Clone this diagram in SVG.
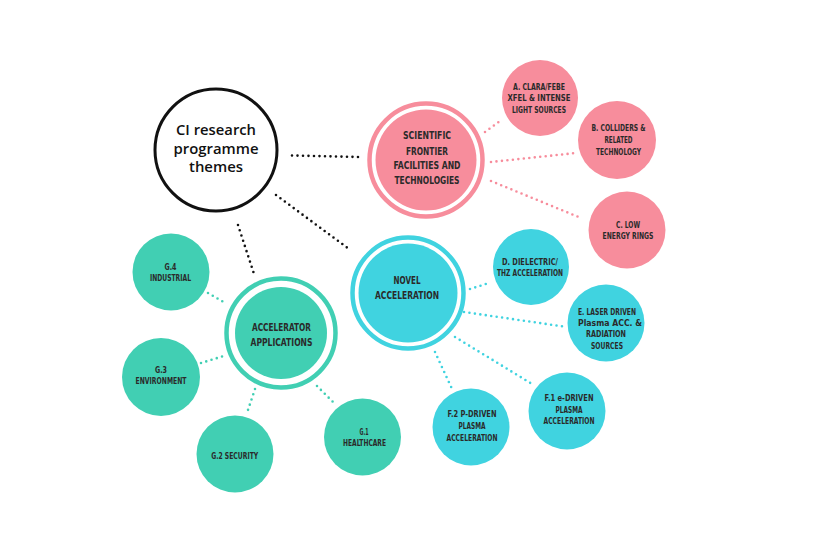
<svg xmlns="http://www.w3.org/2000/svg" width="820" height="546" viewBox="0 0 820 546">
<style>
.bg{fill:#ffffff}
.pink{fill:#F78D9C}
.blue{fill:#40D3E0}
.green{fill:#41CFB3}
.ringP{fill:none;stroke:#F78D9C;stroke-width:4.5}
.ringB{fill:none;stroke:#40D3E0;stroke-width:4.5}
.ringG{fill:none;stroke:#41CFB3;stroke-width:4.5}
.dot{fill:none;stroke-linecap:round;stroke-width:2.6;stroke-dasharray:0 5.5}
.dk{stroke:#111111}
.dp{stroke:#F78D9C}
.db{stroke:#40D3E0}
.dg{stroke:#41CFB3}
.t{font-family:"Liberation Sans Narrow","DejaVu Sans Condensed",sans-serif;fill:#2a2a2a;text-anchor:middle;font-weight:bold}
.s{font-size:9px}
.m{font-size:11px}
.c{font-family:"Open Sans","Noto Sans",sans-serif;font-weight:600;font-size:15px;fill:#111111;text-anchor:middle}
</style>
<rect class="bg" x="0" y="0" width="820" height="546"/>
<g id="connectors">
<line class="dot dk" x1="292" y1="155.5" x2="358" y2="157"/>
<line class="dot dk" x1="276" y1="195" x2="349" y2="249"/>
<line class="dot dk" x1="238" y1="225" x2="255" y2="277"/>
<line class="dot dp" x1="485" y1="132" x2="500" y2="121"/>
<line class="dot dp" x1="491" y1="162" x2="576" y2="153"/>
<line class="dot dp" x1="491" y1="181" x2="581" y2="218"/>
<line class="dot db" x1="470" y1="289" x2="489" y2="283"/>
<line class="dot db" x1="464" y1="312" x2="567" y2="327"/>
<line class="dot db" x1="455" y1="337" x2="532" y2="384"/>
<line class="dot db" x1="435" y1="352" x2="453" y2="391"/>
<line class="dot dg" x1="208" y1="293" x2="227" y2="304"/>
<line class="dot dg" x1="201" y1="363" x2="227" y2="355"/>
<line class="dot dg" x1="255" y1="389" x2="247" y2="413"/>
<line class="dot dg" x1="317" y1="386" x2="335" y2="404"/>
</g>
<g id="root">
<circle cx="216" cy="150" r="61" fill="#ffffff" stroke="#111111" stroke-width="3"/>
<text class="c" x="216" y="135" textLength="80" lengthAdjust="spacingAndGlyphs">CI research</text>
<text class="c" x="216" y="153.5" textLength="85" lengthAdjust="spacingAndGlyphs">programme</text>
<text class="c" x="216" y="172" textLength="54" lengthAdjust="spacingAndGlyphs">themes</text>
</g>
<g id="scientific">
<circle class="ringP" cx="426" cy="160" r="56.5"/>
<circle class="pink" cx="426" cy="160" r="50.5"/>
<text class="t m" x="427" y="139" textLength="48" lengthAdjust="spacingAndGlyphs">SCIENTIFIC</text>
<text class="t m" x="427" y="154.5" textLength="42" lengthAdjust="spacingAndGlyphs">FRONTIER</text>
<text class="t m" x="427" y="169" textLength="67" lengthAdjust="spacingAndGlyphs">FACILITIES AND</text>
<text class="t m" x="427" y="184" textLength="65" lengthAdjust="spacingAndGlyphs">TECHNOLOGIES</text>
</g>
<g id="nodeA">
<circle class="pink" cx="540" cy="98" r="38"/>
<text class="t s" x="539" y="90" textLength="52" lengthAdjust="spacingAndGlyphs">A. CLARA/FEBE</text>
<text class="t s" x="539" y="101" textLength="63" lengthAdjust="spacingAndGlyphs">XFEL &amp; INTENSE</text>
<text class="t s" x="539" y="112.5" textLength="54" lengthAdjust="spacingAndGlyphs">LIGHT SOURCES</text>
</g>
<g id="nodeB">
<circle class="pink" cx="617" cy="140" r="39"/>
<text class="t s" x="618.5" y="131" textLength="54" lengthAdjust="spacingAndGlyphs">B. COLLIDERS &amp;</text>
<text class="t s" x="618.5" y="143" textLength="28" lengthAdjust="spacingAndGlyphs">RELATED</text>
<text class="t s" x="618.5" y="155" textLength="45" lengthAdjust="spacingAndGlyphs">TECHNOLOGY</text>
</g>
<g id="nodeC">
<circle class="pink" cx="627" cy="230" r="38.5"/>
<text class="t s" x="628" y="228" textLength="24" lengthAdjust="spacingAndGlyphs">C. LOW</text>
<text class="t s" x="628" y="239" textLength="51" lengthAdjust="spacingAndGlyphs">ENERGY RINGS</text>
</g>
<g id="novel">
<circle class="ringB" cx="408" cy="293" r="55.5"/>
<circle class="blue" cx="408" cy="293" r="49.5"/>
<text class="t m" x="407" y="284" textLength="27" lengthAdjust="spacingAndGlyphs">NOVEL</text>
<text class="t m" x="407" y="299" textLength="64" lengthAdjust="spacingAndGlyphs">ACCELERATION</text>
</g>
<g id="nodeD">
<circle class="blue" cx="531" cy="267" r="38"/>
<text class="t s" x="530" y="265" textLength="56" lengthAdjust="spacingAndGlyphs">D. DIELECTRIC/</text>
<text class="t s" x="530" y="276" textLength="66" lengthAdjust="spacingAndGlyphs">THZ ACCELERATION</text>
</g>
<g id="nodeE">
<circle class="blue" cx="606" cy="323" r="38.5"/>
<text class="t s" x="607" y="315" textLength="58" lengthAdjust="spacingAndGlyphs">E. LASER DRIVEN</text>
<text class="t s" x="610" y="326" textLength="64" lengthAdjust="spacingAndGlyphs">Plasma ACC. &amp;</text>
<text class="t s" x="606" y="337" textLength="40" lengthAdjust="spacingAndGlyphs">RADIATION</text>
<text class="t s" x="607" y="348.5" textLength="32" lengthAdjust="spacingAndGlyphs">SOURCES</text>
</g>
<g id="nodeF1">
<circle class="blue" cx="567" cy="411" r="38.5"/>
<text class="t s" x="569" y="401" textLength="49" lengthAdjust="spacingAndGlyphs">F.1 e-DRIVEN</text>
<text class="t s" x="569" y="412.5" textLength="27" lengthAdjust="spacingAndGlyphs">PLASMA</text>
<text class="t s" x="569" y="423.5" textLength="51" lengthAdjust="spacingAndGlyphs">ACCELERATION</text>
</g>
<g id="nodeF2">
<circle class="blue" cx="471" cy="427" r="38.5"/>
<text class="t s" x="472" y="417" textLength="49" lengthAdjust="spacingAndGlyphs">F.2 P-DRIVEN</text>
<text class="t s" x="472" y="429" textLength="27" lengthAdjust="spacingAndGlyphs">PLASMA</text>
<text class="t s" x="472" y="440.5" textLength="51" lengthAdjust="spacingAndGlyphs">ACCELERATION</text>
</g>
<g id="applications">
<circle class="ringG" cx="281" cy="333" r="54.5"/>
<circle class="green" cx="281" cy="333" r="46"/>
<text class="t m" x="281.5" y="331" textLength="59" lengthAdjust="spacingAndGlyphs">ACCELERATOR</text>
<text class="t m" x="281.5" y="345.5" textLength="62" lengthAdjust="spacingAndGlyphs">APPLICATIONS</text>
</g>
<g id="nodeG4">
<circle class="green" cx="171" cy="272" r="38.5"/>
<text class="t s" x="170.5" y="270" textLength="12" lengthAdjust="spacingAndGlyphs">G.4</text>
<text class="t s" x="170.5" y="281" textLength="41" lengthAdjust="spacingAndGlyphs">INDUSTRIAL</text>
</g>
<g id="nodeG3">
<circle class="green" cx="161" cy="377" r="39"/>
<text class="t s" x="161" y="373" textLength="12" lengthAdjust="spacingAndGlyphs">G.3</text>
<text class="t s" x="161" y="384" textLength="51" lengthAdjust="spacingAndGlyphs">ENVIRONMENT</text>
</g>
<g id="nodeG2">
<circle class="green" cx="235" cy="454" r="38.5"/>
<text class="t s" x="234.7" y="459" textLength="47" lengthAdjust="spacingAndGlyphs">G.2 SECURITY</text>
</g>
<g id="nodeG1">
<circle class="green" cx="362.5" cy="437" r="38.5"/>
<text class="t s" x="364" y="435" textLength="9" lengthAdjust="spacingAndGlyphs">G.1</text>
<text class="t s" x="364.5" y="445.5" textLength="43" lengthAdjust="spacingAndGlyphs">HEALTHCARE</text>
</g>
</svg>
